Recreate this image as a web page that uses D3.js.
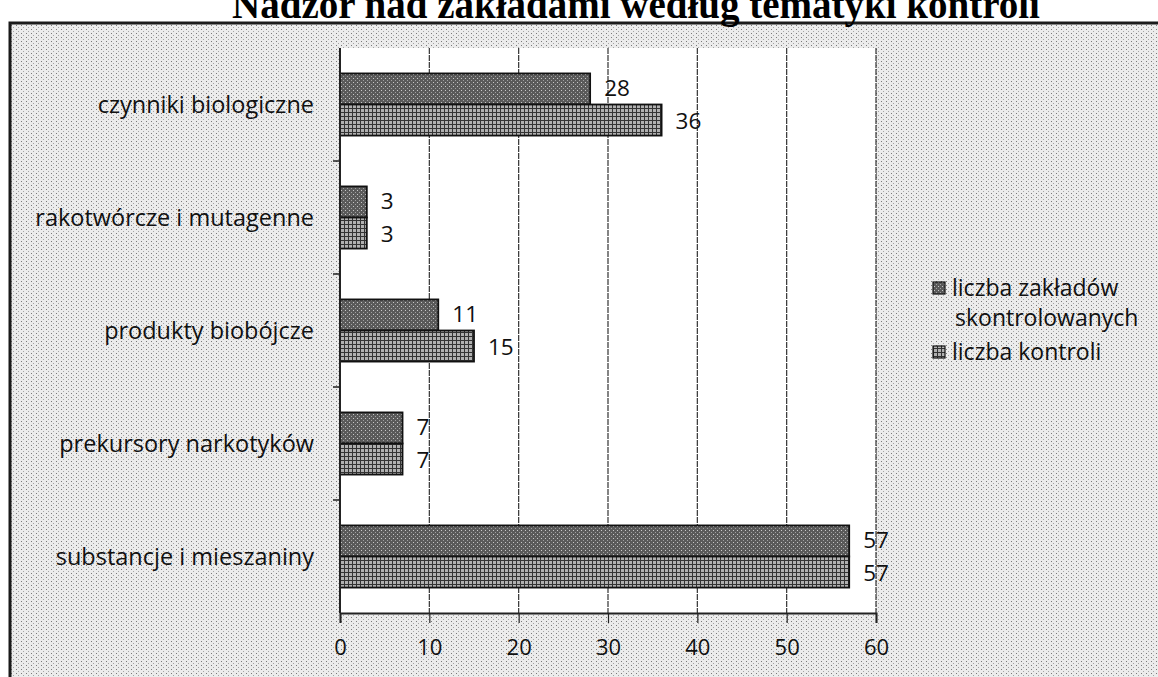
<!DOCTYPE html>
<head>
  <meta charset="utf-8">
  <script src="https://d3js.org/d3.v7.min.js"></script>
  <style>
    body { margin: 0; background: #fff; }
    svg { display: block; }
  </style>
</head>
<body>
  <svg width="1158" height="677"></svg>
  <script>
    // dane z wykresu
    var title = 'Nadzór nad zakładami według tematyki kontroli';
    var categories = ['czynniki biologiczne', 'rakotwórcze i mutagenne', 'produkty biobójcze',
                      'prekursory narkotyków', 'substancje i mieszaniny'];
    var zakladySkontrolowane = [28, 3, 11, 7, 57];
    var liczbaKontroli = [36, 3, 15, 7, 57];
    var legendLabels = [['liczba zakładów', 'skontrolowanych'], ['liczba kontroli']];
    var xTicks = [0, 10, 20, 30, 40, 50, 60];

    var svg = d3.select('svg');
    var plot = {left: 340, right: 876, top: 48, bottom: 613};
    var font = "'Open Sans', 'Noto Sans', sans-serif";

    // tekstury (skan)
    var defs = svg.append('defs');
    var bg = defs.append('pattern').attr('id', 'bgDots')
      .attr('width', 5).attr('height', 4).attr('patternUnits', 'userSpaceOnUse');
    bg.append('rect').attr('width', 5).attr('height', 4).attr('fill', '#ececec');
    bg.append('rect').attr('x', 1).attr('y', 1).attr('width', 1).attr('height', 1).attr('fill', '#7a7a7a');
    bg.append('rect').attr('x', 3).attr('y', 3).attr('width', 1).attr('height', 1).attr('fill', '#a5a5a5');

    var p1 = defs.append('pattern').attr('id', 'dark')
      .attr('width', 4).attr('height', 4).attr('patternUnits', 'userSpaceOnUse');
    p1.append('rect').attr('width', 4).attr('height', 4).attr('fill', '#5a5a5a');
    p1.append('rect').attr('x', 1).attr('y', 2).attr('width', 1).attr('height', 1).attr('fill', '#c8c8c8');
    p1.append('rect').attr('x', 3).attr('y', 0).attr('width', 1).attr('height', 1).attr('fill', '#a0a0a0');

    var p2 = defs.append('pattern').attr('id', 'light')
      .attr('width', 4).attr('height', 4).attr('patternUnits', 'userSpaceOnUse');
    p2.append('rect').attr('width', 4).attr('height', 4).attr('fill', '#b0b0b0');
    p2.append('rect').attr('x', 0).attr('y', 0).attr('width', 4).attr('height', 1).attr('fill', '#333');
    p2.append('rect').attr('x', 0).attr('y', 0).attr('width', 1).attr('height', 4).attr('fill', '#333');

    var fills = ['url(#dark)', 'url(#light)'];

    // ramka wykresu
    svg.append('rect')
      .attr('x', 10).attr('y', 23).attr('width', 1170).attr('height', 680)
      .attr('fill', 'url(#bgDots)').attr('stroke', '#1a1a1a').attr('stroke-width', 3);

    // tytuł (ucięty u góry jak na skanie)
    svg.append('text')
      .attr('x', 636).attr('y', 18)
      .attr('text-anchor', 'middle')
      .style('font-family', "'Liberation Serif', 'Times New Roman', serif")
      .style('font-weight', 'bold').style('font-size', '39px')
      .text(title);

    // obszar kreślenia
    svg.append('rect')
      .attr('x', plot.left).attr('y', plot.top)
      .attr('width', plot.right - plot.left).attr('height', plot.bottom - plot.top)
      .attr('fill', '#fff');

    var xScale = d3.scaleLinear().domain([0, 60]).range([plot.left, plot.right]);
    var yScale = d3.scaleBand().domain(categories).range([plot.top, plot.bottom])
      .paddingInner(0.45).paddingOuter(0.225);
    var ySub = d3.scaleBand().domain([0, 1]).range([0, yScale.bandwidth()]);

    // linie siatki
    svg.append('g').selectAll('line')
      .data(xTicks.slice(1))
      .join('line')
      .attr('x1', d => xScale(d)).attr('x2', d => xScale(d))
      .attr('y1', plot.top).attr('y2', plot.bottom)
      .attr('stroke', '#333').attr('stroke-width', 1.2).attr('stroke-dasharray', '6,1');

    // słupki
    var series = [zakladySkontrolowane, liczbaKontroli];
    series.forEach(function (vals, s) {
      var g = svg.append('g');
      g.selectAll('rect')
        .data(vals)
        .join('rect')
        .attr('x', xScale(0))
        .attr('y', (d, i) => yScale(categories[i]) + ySub(s))
        .attr('width', d => xScale(d) - xScale(0))
        .attr('height', ySub.bandwidth())
        .attr('fill', fills[s])
        .attr('stroke', '#111').attr('stroke-width', 1.8);
      g.selectAll('text')
        .data(vals)
        .join('text')
        .attr('x', d => xScale(d) + 14)
        .attr('y', (d, i) => yScale(categories[i]) + ySub(s) + ySub.bandwidth() / 2 + (s === 0 ? -1 : 1))
        .attr('dy', '0.36em')
        .style('font-family', font).style('font-size', '22.5px').attr('fill', '#111')
        .text(d => d);
    });

    // oś X
    var xAxis = d3.axisBottom(xScale).tickValues(xTicks).tickSize(10).tickPadding(16);
    var gx = svg.append('g')
      .attr('transform', 'translate(0,' + plot.bottom + ')')
      .call(xAxis);
    gx.select('.domain').attr('stroke', '#222').attr('stroke-width', 2);
    gx.selectAll('.tick line').attr('stroke', '#222').attr('stroke-width', 1.2);
    gx.selectAll('text').style('font-family', font).style('font-size', '22px').attr('fill', '#111');

    // oś Y (znaczniki między kategoriami)
    var yAxisLine = svg.append('g');
    yAxisLine.append('line')
      .attr('x1', plot.left).attr('x2', plot.left)
      .attr('y1', plot.top).attr('y2', plot.bottom)
      .attr('stroke', '#222').attr('stroke-width', 2);
    yAxisLine.selectAll('line.tk')
      .data(categories.slice(1))
      .join('line').attr('class', 'tk')
      .attr('x1', plot.left - 7).attr('x2', plot.left)
      .attr('y1', d => yScale(d) - yScale.step() * yScale.paddingInner() / 2)
      .attr('y2', d => yScale(d) - yScale.step() * yScale.paddingInner() / 2)
      .attr('stroke', '#222').attr('stroke-width', 1.5);

    svg.append('g').selectAll('text')
      .data(categories)
      .join('text')
      .attr('x', 314)
      .attr('y', d => yScale(d) + yScale.bandwidth() / 2)
      .attr('dy', '0.36em')
      .attr('text-anchor', 'end')
      .style('font-family', font).style('font-size', '23.5px').attr('fill', '#111')
      .text(d => d);

    // legenda
    var legendY = [288, 352];
    legendLabels.forEach(function (lines, i) {
      var lg = svg.append('g').attr('transform', 'translate(933,' + legendY[i] + ')');
      lg.append('rect').attr('x', 0).attr('y', -6).attr('width', 12).attr('height', 12)
        .attr('fill', fills[i]).attr('stroke', '#111').attr('stroke-width', 1.2);
      lg.selectAll('text')
        .data(lines)
        .join('text')
        .attr('x', (d, j) => j === 0 ? 19 : 22)
        .attr('y', (d, j) => j * 30)
        .attr('dy', '0.36em')
        .style('font-family', font).style('font-size', '23px').attr('fill', '#111')
        .text(d => d);
    });
  </script>
</body>
